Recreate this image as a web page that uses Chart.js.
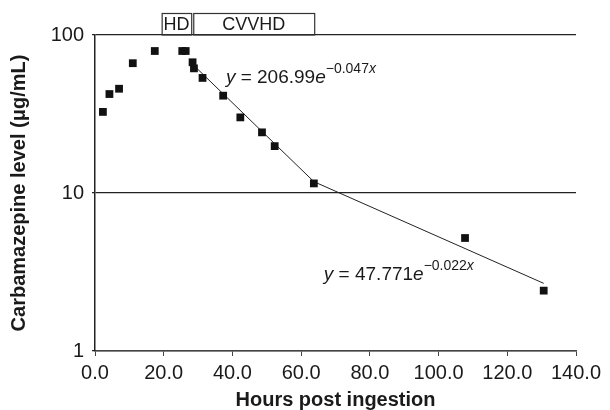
<!DOCTYPE html>
<html>
<head>
<meta charset="utf-8">
<script src="https://cdn.jsdelivr.net/npm/chart.js@4.4.0/dist/chart.umd.min.js"></script>
<style>
  html, body { margin: 0; padding: 0; background: #fff; }
  #wrap { width: 610px; height: 410px; }
</style>
</head>
<body>
<div id="wrap"><canvas id="myChart" width="610" height="410"></canvas></div>
<script>
// measured points
const hours = [2.3, 4.2, 7.0, 11.0, 17.4, 25.4, 26.4, 28.4, 28.8, 31.3, 37.3, 42.3, 48.6, 52.3, 63.7, 107.7, 130.6];
const levels = [32.6, 42.3, 45.7, 66.3, 79.2, 79.2, 79.2, 67.2, 61.5, 53.5, 41.3, 30.1, 24.2, 19.8, 11.5, 5.19, 2.41];

// trend lines
const fitHours1 = [28.5, 63.7];
const fitLevels1 = [65.0, 11.8];
const fitHours2 = [63.7, 130.6];
const fitLevels2 = [11.8, 2.68];

// equations
const eqCoef = ["206.99", "47.771"];
const eqPower = ["\u22120.047x", "\u22120.022x"];
const eqHours = [38.1, 66.6];
const eqLevels = [49.6, 2.81];

// dialysis boxes
const boxLabels = ["HD", "CVVHD"];
const boxStart = [19.4, 28.6];
const boxEnd = [28.0, 63.8];

const yTicks = [1, 10, 100];
const xTicks = [0, 20, 40, 60, 80, 100, 120, 140];

const FONT = "'Liberation Sans', Arial, Helvetica, sans-serif";
const INK = "#1a1a1a";

function pts(xs, ys) {
  return xs.map((x, i) => ({ x: x, y: ys[i] }));
}

const extras = {
  id: "extras",
  afterDatasetsDraw(chart) {
    const ctx = chart.ctx;
    const xs = chart.scales.x, ys = chart.scales.y;
    const top = chart.chartArea.top;
    ctx.save();
    // HD / CVVHD boxes
    ctx.strokeStyle = "#333";
    ctx.lineWidth = 1.2;
    ctx.fillStyle = INK;
    ctx.font = "18px " + FONT;
    ctx.textAlign = "center";
    ctx.textBaseline = "middle";
    boxLabels.forEach((lab, i) => {
      const a = xs.getPixelForValue(boxStart[i]);
      const b = xs.getPixelForValue(boxEnd[i]);
      ctx.strokeRect(a + 0.5, 13.5, b - a, top - 13.5);
      ctx.fillText(lab, (a + b) / 2, (13 + top) / 2 + 1);
    });
    // equations
    ctx.textAlign = "left";
    ctx.textBaseline = "alphabetic";
    eqCoef.forEach((c, i) => {
      let x = xs.getPixelForValue(eqHours[i]);
      const y = ys.getPixelForValue(eqLevels[i]);
      ctx.font = "italic 19px " + FONT;
      ctx.fillText("y", x, y);
      x += ctx.measureText("y").width;
      ctx.font = "19px " + FONT;
      const mid = " = " + c;
      ctx.fillText(mid, x, y);
      x += ctx.measureText(mid).width;
      ctx.font = "italic 19px " + FONT;
      ctx.fillText("e", x, y);
      x += ctx.measureText("e").width;
      ctx.font = "14px " + FONT;
      const p = eqPower[i].slice(0, -1);
      ctx.fillText(p, x, y - 10);
      x += ctx.measureText(p).width;
      ctx.font = "italic 14px " + FONT;
      ctx.fillText("x", x, y - 10);
    });
    ctx.restore();
  }
};

const config = {
  type: "scatter",
  data: {
    datasets: [
      {
        data: pts(hours, levels),
        pointStyle: "rect",
        pointRadius: 5.5,
        backgroundColor: "#111",
        borderColor: "#111",
        borderWidth: 0
      },
      {
        data: pts(fitHours1, fitLevels1),
        showLine: true,
        pointRadius: 0,
        borderColor: "#222",
        borderWidth: 1
      },
      {
        data: pts(fitHours2, fitLevels2),
        showLine: true,
        pointRadius: 0,
        borderColor: "#222",
        borderWidth: 1
      }
    ]
  },
  options: {
    responsive: false,
    animation: false,
    layout: { padding: { top: 35, right: 34, left: 0, bottom: 0 } },
    plugins: { legend: { display: false }, tooltip: { enabled: false } },
    scales: {
      x: {
        type: "linear",
        min: 0,
        max: 140,
        afterFit(s) { s.height = 59; },
        afterBuildTicks(s) { s.ticks = xTicks.map(v => ({ value: v })); },
        ticks: {
          color: INK,
          font: { family: FONT, size: 20 },
          padding: 5,
          maxRotation: 0,
          callback: v => v.toFixed(1)
        },
        grid: { drawOnChartArea: false, drawTicks: true, tickLength: 5, color: "#444" },
        border: { color: "#444", width: 1.5 },
        title: {
          display: true,
          text: "Hours post ingestion",
          color: INK,
          font: { family: FONT, size: 20, weight: "bold", lineHeight: 1 },
          padding: { top: 0, bottom: 0 }
        }
      },
      y: {
        type: "logarithmic",
        min: 1,
        max: 100,
        afterFit(s) { s.width = 95; },
        afterBuildTicks(s) { s.ticks = yTicks.map(v => ({ value: v })); },
        ticks: {
          color: INK,
          font: { family: FONT, size: 20 },
          padding: 8,
          callback: v => String(v)
        },
        grid: { color: "#222", lineWidth: 1.2, tickLength: 3 },
        border: { color: "#222", width: 1.5 },
        title: {
          display: true,
          text: "Carbamazepine level (\u03bcg/mL)",
          color: INK,
          font: { family: FONT, size: 20, weight: "bold", lineHeight: 1 },
          padding: { top: 9, bottom: 0 }
        }
      }
    }
  },
  plugins: [extras]
};

const myChart = new Chart(document.getElementById("myChart"), config);
</script>
</body>
</html>
